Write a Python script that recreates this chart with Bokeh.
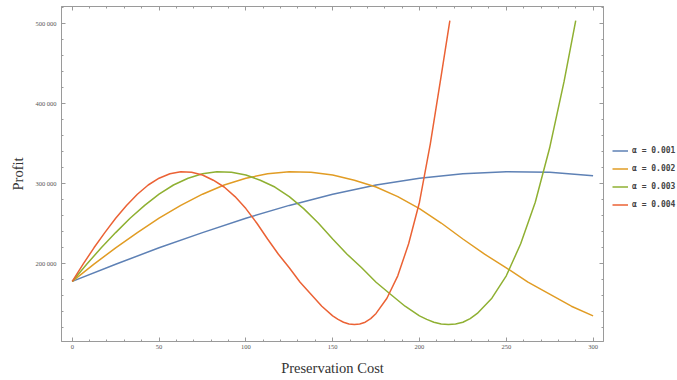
from bokeh.plotting import figure
from bokeh.models import Range1d, LinearAxis, FixedTicker, Legend, LegendItem
from bokeh.layouts import row
from bokeh.embed import file_html
from bokeh.resources import INLINE

# ---- data ----
blue_x = [0, 25, 50, 75, 100, 125, 150, 175, 200, 225, 250, 275, 300]
blue_y = [178000, 199500, 220000, 239000, 257000, 273000, 287000, 298500, 307000,
          312500, 315000, 314500, 310000]

orange_x = [0, 12.5, 25, 37.5, 50, 62.5, 75, 87.5, 100, 112.5, 125, 137.5, 150,
            162.5, 175, 187.5, 200, 212.5, 225, 237.5, 250, 262.5, 275, 287.5, 300]
orange_y = [178000, 199500, 220000, 239000, 257000, 273000, 287000, 298500, 307000,
            312500, 315000, 314500, 311000, 304500, 296000, 284000, 269000, 251000,
            231000, 212000, 195000, 177000, 162000, 147000, 135000]

green_x = [0, 8.3, 16.7, 25, 33.3, 41.7, 50, 58.3, 66.7, 75, 83.3, 91.7, 100, 108.3,
           116.7, 125, 133.3, 141.7, 150, 158.3, 166.7, 175, 183.3, 191.7, 200, 204.2,
           208.3, 212.5, 216.7, 220.8, 225, 229.2, 233.3, 241.7, 250, 258.3, 266.7,
           275, 283.3, 290]
green_y = [178000, 199500, 220000, 239000, 257000, 273000, 287000, 298500, 307000,
           312500, 315000, 314500, 311000, 304500, 296000, 284000, 269000, 251000,
           231000, 212000, 195000, 177000, 162000, 147000, 135000, 130500,
           127000, 124800, 124000, 124800, 127000, 131500, 138000, 157000, 185000,
           225000, 277000, 345000, 428000, 504000]

red_x = [0, 6.25, 12.5, 18.75, 25, 31.25, 37.5, 43.75, 50, 56.25, 62.5, 68.75, 75,
         81.25, 87.5, 93.75, 100, 106.25, 112.5, 118.75, 125, 131.25, 137.5, 143.75,
         150, 153.1, 156.25, 159.4, 162.5, 165.6, 168.75, 171.9, 175, 181.25, 187.5,
         193.75, 200, 206.25, 212.5, 217.5]
red_y = [178000, 199500, 220000, 239000, 257000, 273000, 287000, 298500, 307000,
         312500, 315000, 314500, 311000, 304500, 296000, 284000, 269000, 251000,
         231000, 212000, 195000, 177000, 162000, 147000, 135000, 130500, 127000,
         124800, 124000, 124800, 127000, 131500, 138000, 157000, 185000, 225000,
         277000, 350000, 435000, 504000]

series_labels = ["\u03b1 = 0.001", "\u03b1 = 0.002", "\u03b1 = 0.003", "\u03b1 = 0.004"]
colors = ["#5E81B5", "#E19C24", "#8FB032", "#EB6235"]

x_ticks = [0, 50, 100, 150, 200, 250, 300]
x_minor = list(range(-10, 311, 10))
y_ticks = [200000, 300000, 400000, 500000]
y_tick_labels = ["200 000", "300 000", "400 000", "500 000"]
y_minor = list(range(100000, 530001, 20000))

# ---- main figure ----
p = figure(width=607, height=380, output_backend="svg", toolbar_location=None,
           x_range=Range1d(-6.2, 306), y_range=Range1d(102900, 521600),
           min_border_left=61, min_border_right=4, min_border_top=6,
           min_border_bottom=39, x_axis_location=None, y_axis_location=None)
p.background_fill_color = "white"
p.border_fill_color = "white"
p.outline_line_color = "#a8a8a8"
p.outline_line_width = 1

FRAME = "#9a9a9a"
LABEL_FONT = "Liberation Serif"


def style_axis(ax):
    ax.axis_line_color = FRAME
    ax.major_tick_line_color = FRAME
    ax.minor_tick_line_color = FRAME
    ax.major_tick_in = 4
    ax.major_tick_out = 0
    ax.minor_tick_in = 2
    ax.minor_tick_out = 0
    ax.major_label_text_font = LABEL_FONT
    ax.major_label_text_color = "#555555"
    ax.major_label_text_font_size = "6.5px"
    ax.axis_label_text_font = LABEL_FONT
    ax.axis_label_text_font_style = "normal"
    ax.axis_label_text_color = "#333333"
    ax.axis_label_text_font_size = "14.5px"


xb = LinearAxis(ticker=FixedTicker(ticks=x_ticks, minor_ticks=x_minor),
                axis_label="Preservation Cost")
style_axis(xb)
xb.major_label_standoff = 3
xb.axis_label_standoff = 8
p.add_layout(xb, "below")

xt = LinearAxis(ticker=FixedTicker(ticks=x_ticks, minor_ticks=x_minor))
style_axis(xt)
xt.major_label_overrides = {t: "" for t in x_ticks}
xt.major_label_standoff = 0
p.add_layout(xt, "above")

yl = LinearAxis(ticker=FixedTicker(ticks=y_ticks, minor_ticks=y_minor),
                axis_label="Profit")
style_axis(yl)
yl.major_label_overrides = dict(zip(y_ticks, y_tick_labels))
yl.major_label_standoff = 5
yl.axis_label_standoff = 6
p.add_layout(yl, "left")

yr = LinearAxis(ticker=FixedTicker(ticks=y_ticks, minor_ticks=y_minor))
style_axis(yr)
yr.major_label_overrides = {t: "" for t in y_ticks}
yr.major_label_standoff = 0
p.add_layout(yr, "right")

p.xgrid.grid_line_color = None
p.ygrid.grid_line_color = None

for xs, ys, c in [(blue_x, blue_y, colors[0]), (orange_x, orange_y, colors[1]),
                  (green_x, green_y, colors[2]), (red_x, red_y, colors[3])]:
    p.line(xs, ys, line_color=c, line_width=1.5, line_join="round")

# ---- legend panel (separate small figure to the right) ----
q = figure(width=70, height=380, output_backend="svg", toolbar_location=None,
           x_range=Range1d(0, 1), y_range=Range1d(0, 1),
           min_border_left=0, min_border_right=0, min_border_top=0,
           min_border_bottom=0, x_axis_location=None, y_axis_location=None)
q.outline_line_color = None
q.background_fill_color = "white"
q.border_fill_color = "white"
q.xgrid.grid_line_color = None
q.ygrid.grid_line_color = None

nan = float("nan")
dummies = [q.line([nan], [nan], line_color=c, line_width=1.5) for c in colors]
legend = Legend(items=[LegendItem(label=l, renderers=[r]) for l, r in zip(series_labels, dummies)],
                location=(5, 128), orientation="vertical")
legend.border_line_alpha = 0
legend.background_fill_alpha = 0
legend.padding = 0
legend.margin = 0
legend.spacing = 1
legend.glyph_width = 16
legend.glyph_height = 17
legend.label_height = 17
legend.label_standoff = 4
legend.label_text_font = "DejaVu Sans Mono"
legend.label_text_font_style = "bold"
legend.label_text_font_size = "8px"
legend.label_text_color = "#444444"
q.add_layout(legend, "center")

layout = row([p, q], spacing=0)
open("out.html", "w").write(file_html(layout, INLINE))
